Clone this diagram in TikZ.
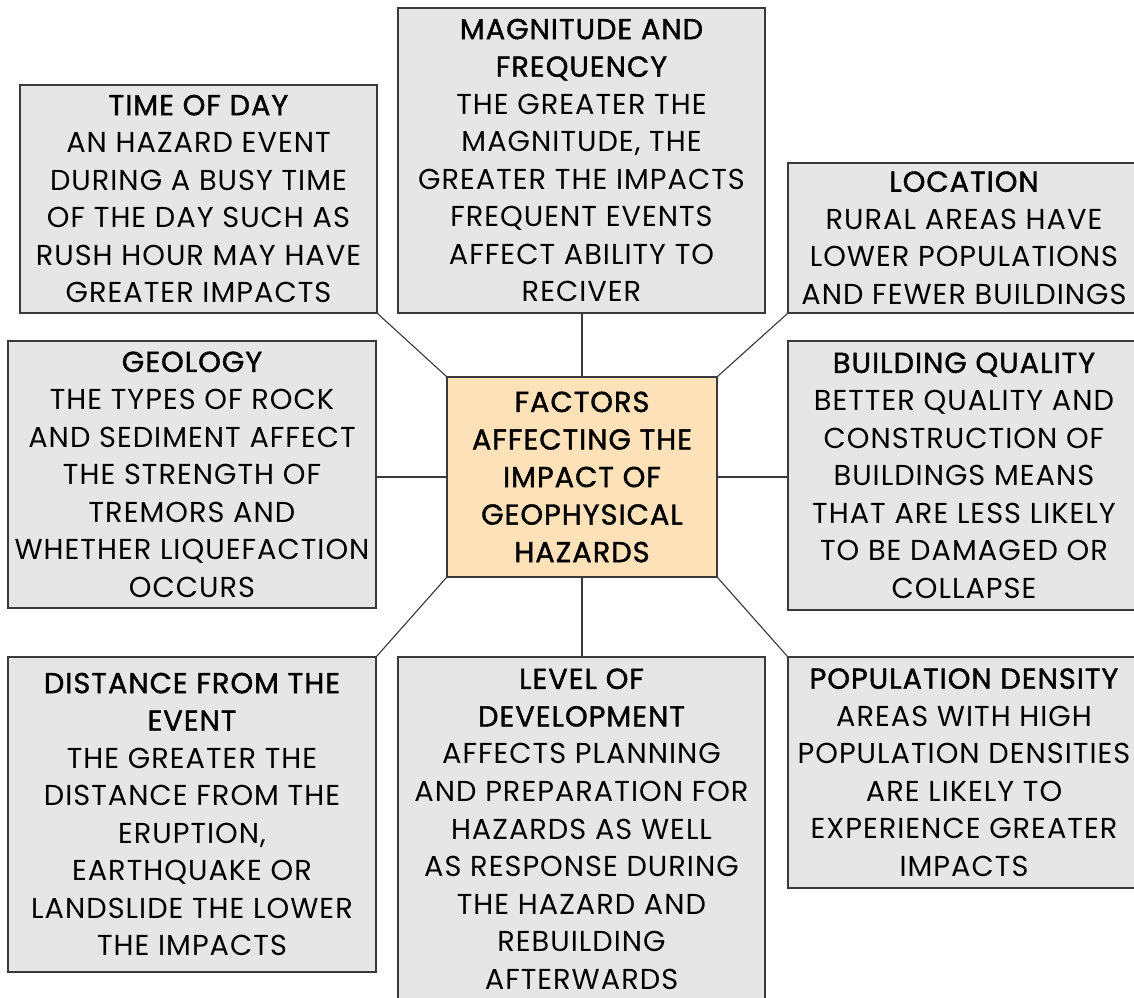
\documentclass[tikz,border=0pt]{standalone}
\usepackage{fontspec}
\setmainfont[LetterSpace=3.5]{Poppins}
\newfontfamily\titlefont[LetterSpace=3.5,FakeBold=1.4]{Poppins}
\usepackage{tikz}
\usetikzlibrary{positioning}
\definecolor{boxgray}{HTML}{E6E6E6}
\definecolor{lineGray}{HTML}{3A3A3A}
\definecolor{centreorange}{HTML}{FDE1B9}
\newcommand{\heading}[1]{{\titlefont #1}}

\begin{document}
\begin{tikzpicture}[x=0.025cm,y=-0.025cm,
    factor/.style={rectangle,draw=lineGray,thick,fill=boxgray,inner sep=0pt,
                   align=center,font=\fontsize{20.5}{26.7}\selectfont},
    link/.style={draw=lineGray,thick}]
\useasboundingbox (0,0) rectangle (1134,998);
\begin{scope}[every node/.style={factor}]
    \node (M)[minimum width=367*0.025cm,minimum height=305*0.025cm] at (581.5,160.5)
        {\heading{MAGNITUDE AND}\\ \heading{FREQUENCY}\\ THE GREATER THE\\ MAGNITUDE, THE\\
         GREATER THE IMPACTS\\ FREQUENT EVENTS\\ AFFECT ABILITY TO\\ RECIVER};
    \node (T)[minimum width=357*0.025cm,minimum height=228*0.025cm] at (198.5,199)
        {\heading{TIME OF DAY}\\ AN HAZARD EVENT\\ DURING A BUSY TIME\\ OF THE DAY SUCH AS\\
         RUSH HOUR MAY HAVE\\ GREATER IMPACTS};
    \node (L)[minimum width=352*0.025cm,minimum height=150*0.025cm] at (964,238)
        {\heading{LOCATION}\\ RURAL AREAS HAVE\\ LOWER POPULATIONS\\ AND FEWER BUILDINGS};
    \node (G)[minimum width=368*0.025cm,minimum height=267*0.025cm] at (192,474.5)
        {\heading{GEOLOGY}\\ THE TYPES OF ROCK\\ AND SEDIMENT AFFECT\\ THE STRENGTH OF\\
         TREMORS AND\\ WHETHER LIQUEFACTION\\ OCCURS};
    \node (C)[fill=centreorange,minimum width=270*0.025cm,minimum height=200*0.025cm] at (582,477)
        {\heading{FACTORS}\\ \heading{AFFECTING THE}\\ \heading{IMPACT OF}\\ \heading{GEOPHYSICAL}\\ \heading{HAZARDS}};
    \node (B)[minimum width=352*0.025cm,minimum height=269*0.025cm] at (964,475.5)
        {\heading{BUILDING QUALITY}\\ BETTER QUALITY AND\\ CONSTRUCTION OF\\ BUILDINGS MEANS\\
         THAT ARE LESS LIKELY\\ TO BE DAMAGED OR\\ COLLAPSE};
    \node (D)[minimum width=368*0.025cm,minimum height=315*0.025cm] at (192,814.5)
        {\heading{DISTANCE FROM THE}\\ \heading{EVENT}\\ THE GREATER THE\\ DISTANCE FROM THE\\
         ERUPTION,\\ EARTHQUAKE OR\\ LANDSLIDE THE LOWER\\ THE IMPACTS};
    \node (V)[minimum width=367*0.025cm,minimum height=344*0.025cm] at (581.5,829)
        {\heading{LEVEL OF}\\ \heading{DEVELOPMENT}\\ AFFECTS PLANNING\\ AND PREPARATION FOR\\
         HAZARDS AS WELL\\ AS RESPONSE DURING\\ THE HAZARD AND\\ REBUILDING\\ AFTERWARDS};
    \node (P)[minimum width=352*0.025cm,minimum height=231*0.025cm] at (964,772.5)
        {\heading{POPULATION DENSITY}\\ AREAS WITH HIGH\\ POPULATION DENSITIES\\ ARE LIKELY TO\\
         EXPERIENCE GREATER\\ IMPACTS};
\end{scope}

\begin{scope}[every path/.style={link}]
    \path (C.north west) edge (T.south east);
    \path (C.north) edge (C.north |- M.south);
    \path (C.north east) edge (L.south west);
    \path (C.west) edge (C.west -| G.east);
    \path (C.east) edge (C.east -| B.west);
    \path (C.south west) edge (D.north east);
    \path (C.south) edge (C.south |- V.north);
    \path (C.south east) edge (P.north west);
\end{scope}
\end{tikzpicture}
\end{document}
